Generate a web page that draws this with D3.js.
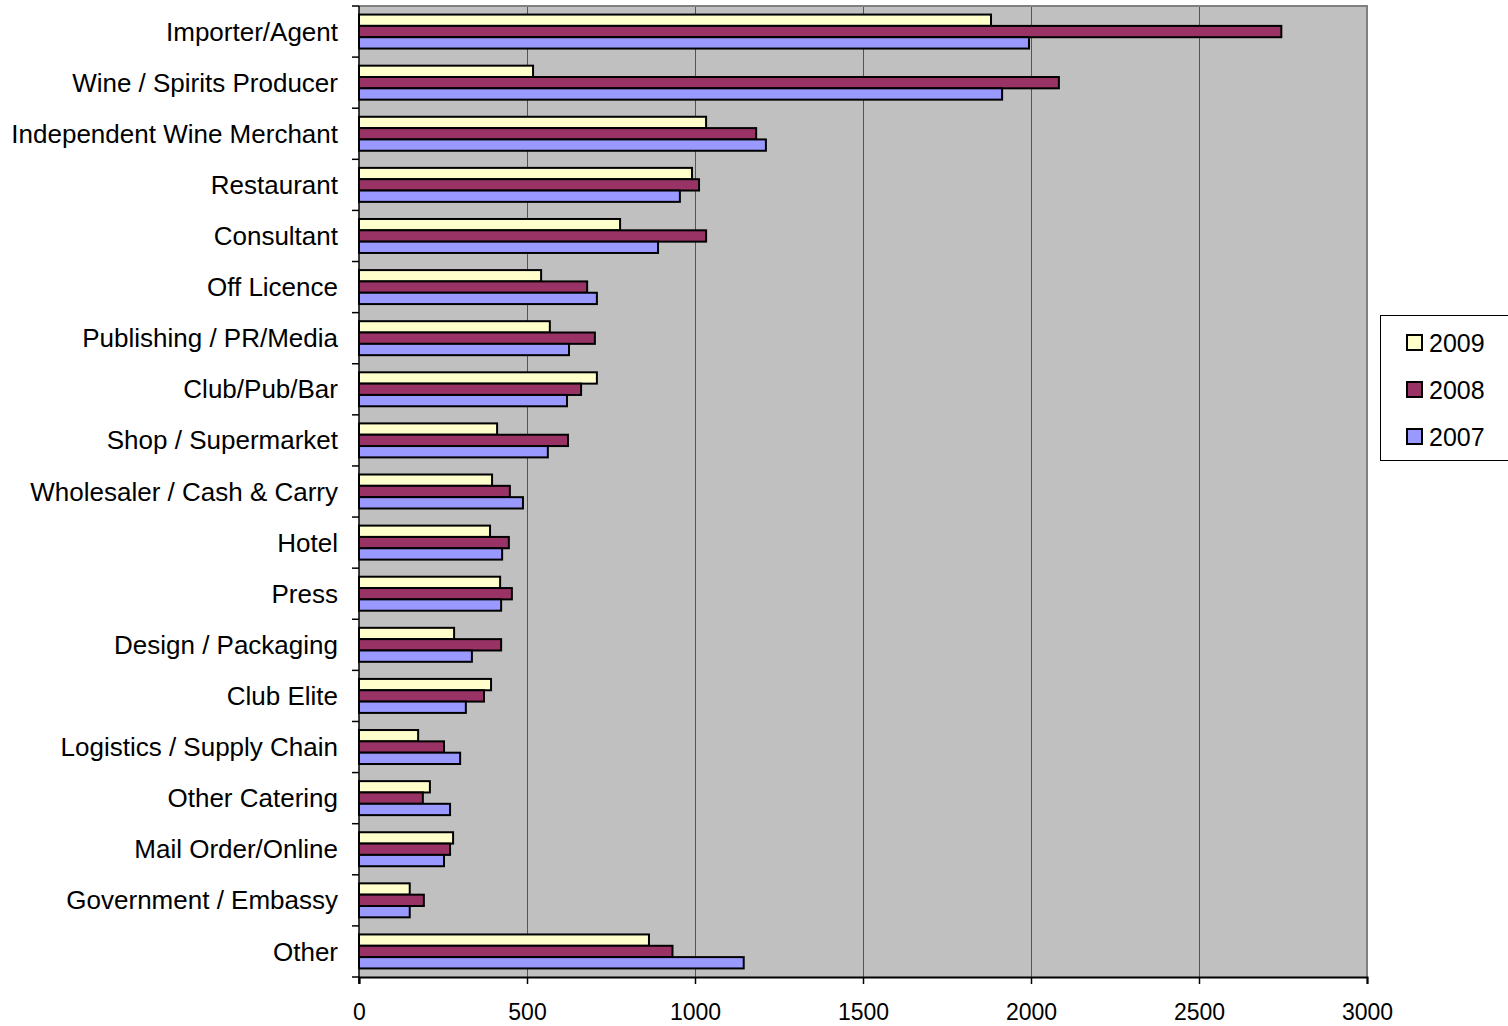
<!DOCTYPE html>
<html lang="en">
<head>
    <meta charset="UTF-8">
    <title>Visitors by Business Type</title>
    <script src="https://d3js.org/d3.v7.min.js"></script>
    <style>
        body { margin: 0; background: #fff; }
        text { font-family: "Liberation Sans", Arial, sans-serif; fill: #000; }
    </style>
</head>
<body>
    <svg id="chart"></svg>
    <script>
        // categories top to bottom
        const categories = [
            "Importer/Agent", "Wine / Spirits Producer", "Independent Wine Merchant",
            "Restaurant", "Consultant", "Off Licence", "Publishing / PR/Media",
            "Club/Pub/Bar", "Shop / Supermarket", "Wholesaler / Cash & Carry",
            "Hotel", "Press", "Design / Packaging", "Club Elite",
            "Logistics / Supply Chain", "Other Catering", "Mail Order/Online",
            "Government / Embassy", "Other"
        ];
        const years = ["2009", "2008", "2007"];
        const values2009 = [1881, 518, 1033, 991, 777, 542, 568, 708, 411, 396, 390, 420, 283, 393, 176, 211, 280, 151, 863];
        const values2008 = [2745, 2083, 1182, 1012, 1033, 679, 702, 661, 622, 449, 446, 455, 423, 372, 253, 190, 271, 193, 933];
        const values2007 = [1994, 1914, 1211, 955, 890, 708, 625, 619, 562, 488, 426, 423, 336, 318, 301, 271, 253, 151, 1145];
        const xTicks = [0, 500, 1000, 1500, 2000, 2500, 3000];
        const colors = ["#FFFFCC", "#993366", "#9999FF"];

        const series = [values2009, values2008, values2007];
        const W = 1508, H = 1026;
        const plot = { left: 359, right: 1367, top: 6, bottom: 977 };

        const svg = d3.select("#chart").attr("width", W).attr("height", H);

        const x = d3.scaleLinear().domain([0, 3000]).range([plot.left, plot.right]);
        const y = d3.scaleBand().domain(categories).range([plot.top, plot.bottom])
            .paddingInner(0.335).paddingOuter(0.1675);
        const ySub = d3.scaleBand().domain(years).range([0, y.bandwidth()]);

        // plot background
        svg.append("rect")
            .attr("x", plot.left).attr("y", plot.top)
            .attr("width", plot.right - plot.left).attr("height", plot.bottom - plot.top)
            .attr("fill", "#C0C0C0");

        // vertical gridlines
        svg.append("g").selectAll("line")
            .data(xTicks.slice(1, -1))
            .join("line")
            .attr("x1", d => x(d) + 0.5).attr("x2", d => x(d) + 0.5)
            .attr("y1", plot.top).attr("y2", plot.bottom)
            .attr("stroke", "#555").attr("stroke-width", 1);

        // grey frame top and right
        svg.append("path")
            .attr("d", `M${plot.left},${plot.top}H${plot.right}V${plot.bottom}`)
            .attr("fill", "none").attr("stroke", "#808080").attr("stroke-width", 2);

        // bars
        const groups = svg.append("g").selectAll("g")
            .data(categories)
            .join("g")
            .attr("transform", d => `translate(0,${y(d)})`);

        groups.selectAll("rect")
            .data((d, i) => years.map((yr, k) => ({ yr, k, v: series[k][i] })))
            .join("rect")
            .attr("x", x(0))
            .attr("y", d => ySub(d.yr))
            .attr("width", d => x(d.v) - x(0))
            .attr("height", ySub.bandwidth())
            .attr("fill", d => colors[d.k])
            .attr("stroke", "#000").attr("stroke-width", 2);

        // left axis with ticks at category boundaries
        const yAxis = svg.append("g");
        yAxis.append("line")
            .attr("x1", plot.left).attr("x2", plot.left)
            .attr("y1", plot.top).attr("y2", plot.bottom + 7)
            .attr("stroke", "#000").attr("stroke-width", 1.5);
        const step = y.step();
        yAxis.selectAll(".tick")
            .data(d3.range(categories.length + 1))
            .join("line")
            .attr("class", "tick")
            .attr("x1", plot.left - 7).attr("x2", plot.left)
            .attr("y1", i => plot.top + i * step).attr("y2", i => plot.top + i * step)
            .attr("stroke", "#000").attr("stroke-width", 1.5);
        yAxis.selectAll(".label")
            .data(categories)
            .join("text")
            .attr("class", "label")
            .attr("x", plot.left - 21)
            .attr("y", d => y(d) + y.bandwidth() / 2)
            .attr("dy", "0.35em")
            .attr("text-anchor", "end")
            .attr("font-size", 26)
            .text(d => d);

        // bottom axis
        const xAxis = svg.append("g").attr("transform", `translate(0,${plot.bottom})`)
            .call(d3.axisBottom(x).tickValues(xTicks).tickFormat(d3.format("d"))
                .tickSize(7).tickPadding(20));
        xAxis.select(".domain").attr("stroke", "#000").attr("stroke-width", 2);
        xAxis.selectAll(".tick line").attr("stroke", "#000").attr("stroke-width", 1.5);
        xAxis.selectAll(".tick text")
            .attr("font-size", 23)
            .attr("font-family", "Liberation Sans, Arial, sans-serif")
            .attr("fill", "#000");

        // legend
        const legend = svg.append("g");
        legend.append("rect")
            .attr("x", 1380.5).attr("y", 315.5)
            .attr("width", 140).attr("height", 145)
            .attr("fill", "#fff").attr("stroke", "#000").attr("stroke-width", 1);
        const items = legend.selectAll("g.item")
            .data(years)
            .join("g")
            .attr("class", "item")
            .attr("transform", (d, i) => `translate(1406,${342.5 + i * 47})`);
        items.append("rect")
            .attr("x", 1).attr("y", -7.5)
            .attr("width", 15).attr("height", 15)
            .attr("fill", (d, i) => colors[i])
            .attr("stroke", "#000").attr("stroke-width", 2);
        items.append("text")
            .attr("x", 23).attr("y", 0).attr("dy", "0.36em")
            .attr("font-size", 25)
            .text(d => d);
    </script>
</body>
</html>
